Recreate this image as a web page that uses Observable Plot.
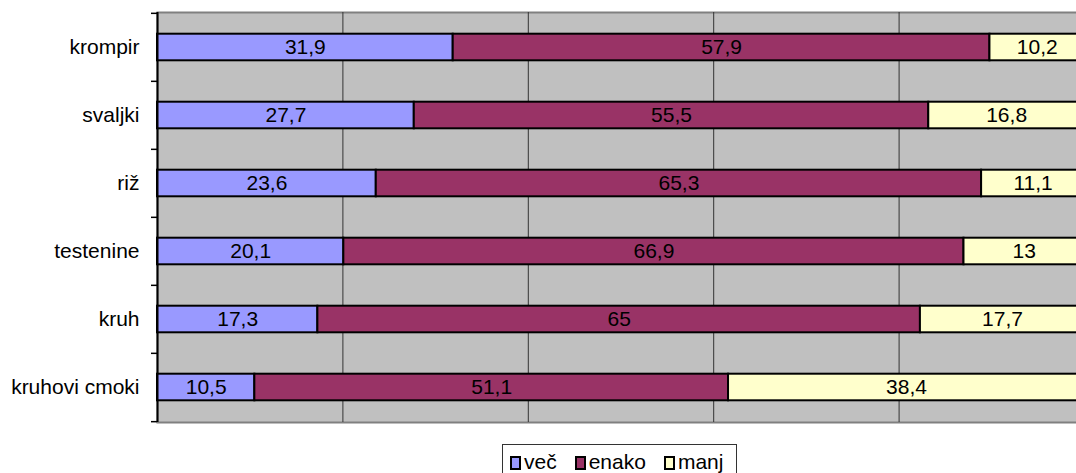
<!DOCTYPE html>
<html>
<head>
<meta charset="utf-8">
<script src="https://cdn.jsdelivr.net/npm/d3@7"></script>
<script src="https://cdn.jsdelivr.net/npm/@observablehq/plot@0.6"></script>
<style>
  html, body { margin: 0; padding: 0; background: #fff; }
  #wrap { position: relative; width: 1076px; height: 473px; overflow: hidden; font-family: "Liberation Sans", Arial, sans-serif; }
  #chart svg { max-width: none !important; display: block; }
  #legend {
    position: absolute; left: 502px; top: 444px; width: 235px; height: 40px;
    box-sizing: border-box; border: 1px solid #333; background: #fff;
    display: flex; align-items: flex-start; padding: 5px 0 0 7px;
    font-size: 21px; line-height: 24px; color: #000;
  }
  .item { display: flex; align-items: center; margin-right: 18px; }
  .sw { width: 11px; height: 14px; box-sizing: border-box; border: 2px solid #000; margin-right: 3px; margin-top: 1px; }
</style>
</head>
<body>
<div id="wrap"><div id="chart"></div><div id="legend"></div></div>
<script>
// Food categories (top to bottom) and the share of answers for each
const categories = ["krompir", "svaljki", "riž", "testenine", "kruh", "kruhovi cmoki"];
const seriesNames = ["več", "enako", "manj"];
const vec   = [31.9, 27.7, 23.6, 20.1, 17.3, 10.5];
const enako = [57.9, 55.5, 65.3, 66.9, 65.0, 51.1];
const manj  = [10.2, 16.8, 11.1, 13.0, 17.7, 38.4];
const seriesColors = ["#9999FF", "#993366", "#FFFFCC"];
const gridTicks = [0, 20, 40, 60, 80, 100];

const seriesValues = [vec, enako, manj];
const rows = [];
seriesNames.forEach((s, si) => {
  categories.forEach((c, ci) => rows.push({cat: c, series: s, value: seriesValues[si][ci]}));
});

const fmt = v => String(v).replace(".", ",");

const W = 1086, H = 430, mTop = 12, mBottom = 8, mLeft = 157, mRight = 2;
const step = (H - mTop - mBottom) / categories.length;
const barInset = 20.7;

const chart = Plot.plot({
  width: W,
  height: H,
  marginTop: mTop,
  marginBottom: mBottom,
  marginLeft: mLeft,
  marginRight: mRight,
  style: {fontFamily: "'Liberation Sans', Arial, sans-serif", fontSize: "21px", background: "transparent", color: "#000", maxWidth: "none"},
  x: {domain: [0, 100], axis: null},
  y: {domain: categories, padding: 0, tickSize: 0, tickPadding: 18, label: null},
  color: {domain: seriesNames, range: seriesColors},
  marks: [
    Plot.frame({fill: "#C0C0C0", stroke: "#808080", strokeWidth: 2}),
    Plot.ruleX(gridTicks, {stroke: "#333", strokeWidth: 1}),
    Plot.barX(rows, Plot.stackX({
      x: "value", y: "cat", fill: "series",
      stroke: "#000", strokeWidth: 2,
      insetTop: barInset, insetBottom: barInset
    })),
    Plot.text(rows, Plot.stackX({
      x: "value", y: "cat", text: d => fmt(d.value),
      fill: "#000", fontSize: 21
    })),
    // category separators on the left axis
    Plot.ruleY(categories, {y: d => d, x1: 0, x2: 0, insetLeft: -6, dy: -step / 2, stroke: "#000", strokeWidth: 1.5}),
    Plot.ruleY(categories.slice(-1), {y: d => d, x1: 0, x2: 0, insetLeft: -6, dy: step / 2, stroke: "#000", strokeWidth: 1.5}),
    Plot.ruleX([0], {stroke: "#000", strokeWidth: 2})
  ]
});
document.getElementById("chart").appendChild(chart);

// legend
const legend = document.getElementById("legend");
seriesNames.forEach((s, i) => {
  const item = document.createElement("div");
  item.className = "item";
  const sw = document.createElement("span");
  sw.className = "sw";
  sw.style.background = seriesColors[i];
  const label = document.createElement("span");
  label.textContent = s;
  item.appendChild(sw);
  item.appendChild(label);
  legend.appendChild(item);
});
</script>
</body>
</html>
